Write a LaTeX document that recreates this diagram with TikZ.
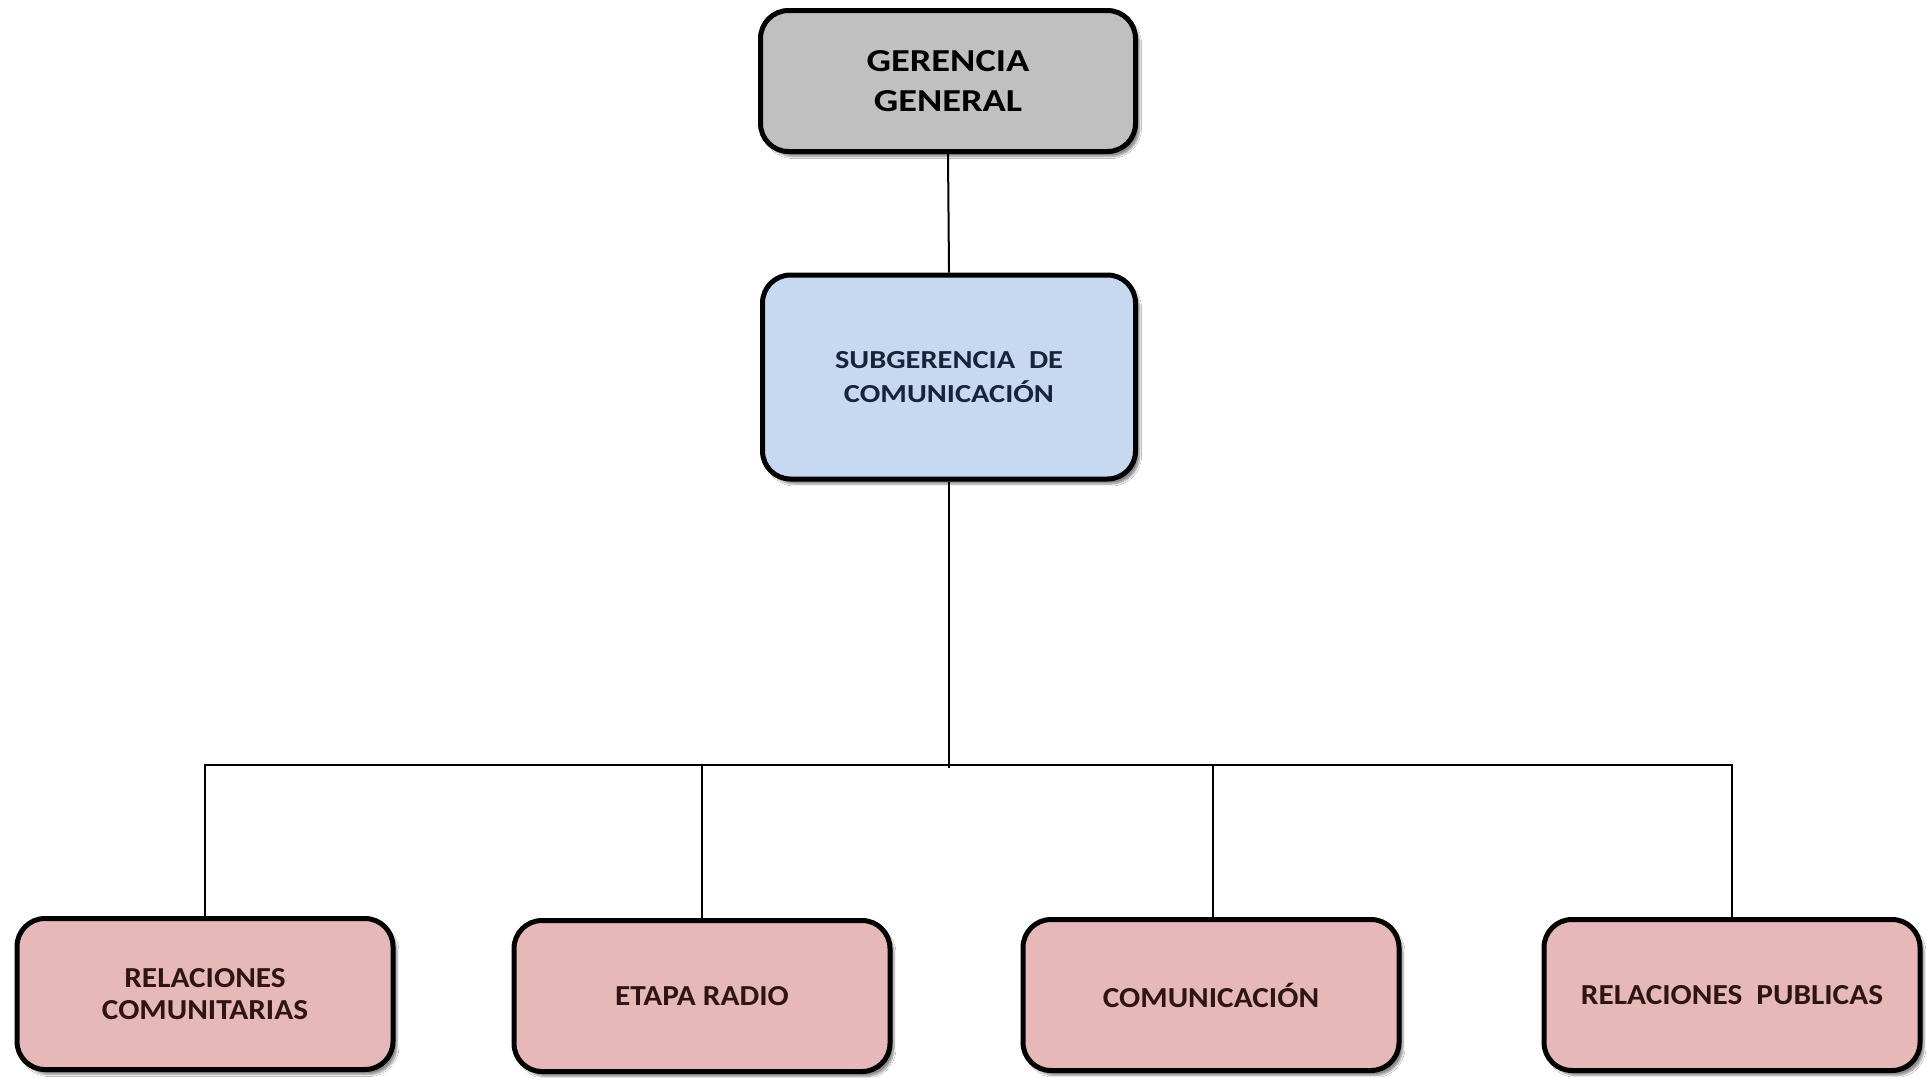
\documentclass[tikz,border=0pt]{standalone}
\usepackage{fontspec}
\setmainfont{Carlito}
\newfontfamily\topfont[FakeStretch=1.2]{Carlito}
\newfontfamily\subfont[FakeStretch=1.17]{Carlito}
\newfontfamily\unitfont[FakeStretch=1.08]{Carlito}
\usetikzlibrary{shadows.blur}
\definecolor{grayfill}{HTML}{C0C0C0}
\definecolor{bluefill}{HTML}{C6D9F1}
\definecolor{pinkfill}{HTML}{E6B8B7}
\definecolor{navytext}{HTML}{17243A}
\definecolor{maroontext}{HTML}{2E1515}
\tikzset{
  box/.style={draw=black, line width=5pt, rounded corners=28pt, align=center,
    inner sep=0pt,
    blur shadow={shadow xshift=4pt, shadow yshift=-5pt, shadow blur steps=6, shadow opacity=45}},
  topbox/.style={box, fill=grayfill, text=black, minimum width=375pt, minimum height=141pt,
    font=\topfont\fontsize{32}{40}\selectfont\bfseries},
  subbox/.style={box, fill=bluefill, text=navytext, minimum width=373pt, minimum height=204pt,
    font=\subfont\fontsize{26}{34}\selectfont\bfseries},
  unitbox/.style={box, fill=pinkfill, text=maroontext, minimum width=376pt, minimum height=151pt,
    font=\unitfont\fontsize{29}{32.5}\selectfont\bfseries},
  link/.style={draw=black, line width=2pt}
}
\begin{document}
\begin{tikzpicture}[x=1pt, y=-1pt]
\useasboundingbox (0,0) rectangle (1927,1077);
\fill[white] (0,0) rectangle (1927,1077);
\node[topbox] (top) at (948,81) {GERENCIA\\GENERAL};
\node[subbox] (sub) at (949,377) {SUBGERENCIA\ \ DE\\COMUNICACIÓN};
\node[unitbox] (b1) at (205,994) {RELACIONES\\COMUNITARIAS};
\node[unitbox] (b2) at (702,996) {ETAPA RADIO};
\node[unitbox] (b3) at (1211,995) {COMUNICACIÓN};
\node[unitbox] (b4) at (1732,995) {RELACIONES\ \ PUBLICAS};
\coordinate (j) at (949,765);
\coordinate (jend) at (949,768);
\coordinate (c3) at (1213,765);
\draw[link] (top.south) -- (sub.north);
\draw[link] (sub.south) -- (jend);
\draw[link] (b1.north) |- (b4.north |- j) -- (b4.north);
\draw[link] (b2.north) -- (b2.north |- j);
\draw[link] (c3) -- (c3 |- b3.north);
\end{tikzpicture}
\end{document}
